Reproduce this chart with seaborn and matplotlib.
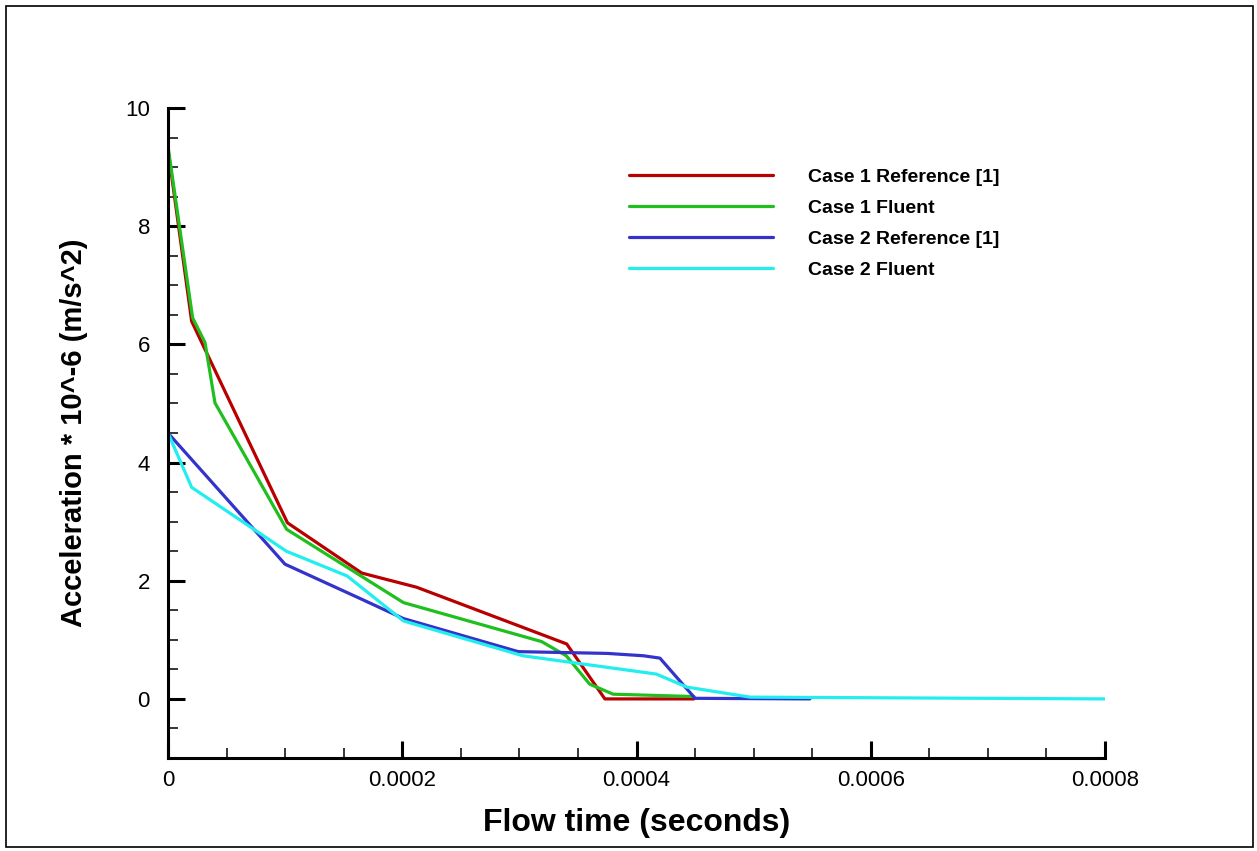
import matplotlib
matplotlib.use("Agg")
import matplotlib.pyplot as plt
import seaborn as sns
import pandas as pd
from matplotlib.patches import Rectangle
from matplotlib.ticker import MultipleLocator

# ---- data ----
c1_ref_t = [0.0, 0.0000202, 0.000102, 0.0001654, 0.0002123, 0.0003404, 0.000373, 0.000449]
c1_ref_a = [9.3, 6.39, 2.98, 2.13, 1.89, 0.93, 0.0, 0.0]

c1_flu_t = [0.0, 0.000021, 0.0000316, 0.0000401, 0.0001013, 0.000201, 0.000319, 0.00034,
            0.00036, 0.00038, 0.000449]
c1_flu_a = [9.35, 6.45, 6.03, 5.01, 2.87, 1.63, 0.97, 0.73, 0.25, 0.08, 0.04]

c2_ref_t = [0.0, 0.0000999, 0.000165, 0.000201, 0.000299, 0.000375, 0.000406, 0.00042,
            0.00045, 0.000548]
c2_ref_a = [4.5, 2.28, 1.69, 1.36, 0.80, 0.77, 0.73, 0.69, 0.01, 0.0]

c2_flu_t = [0.0, 0.0000202, 0.000101, 0.000153, 0.000201, 0.000303, 0.000417, 0.000443,
            0.000497, 0.0008]
c2_flu_a = [4.5, 3.58, 2.50, 2.08, 1.32, 0.73, 0.42, 0.2, 0.03, 0.0]

series_names = ["Case 1 Reference [1]", "Case 1 Fluent", "Case 2 Reference [1]", "Case 2 Fluent"]
series_colors = ["#b80000", "#1fbf1f", "#3333cc", "#22eeee"]

x_tick_labels = ["0", "0.0002", "0.0004", "0.0006", "0.0008"]

frames = []
for name, t, a in zip(series_names,
                      [c1_ref_t, c1_flu_t, c2_ref_t, c2_flu_t],
                      [c1_ref_a, c1_flu_a, c2_ref_a, c2_flu_a]):
    frames.append(pd.DataFrame({"t": t, "a": a, "series": name}))
df = pd.concat(frames, ignore_index=True)

sns.set_style("white")
plt.rcParams['font.family'] = ['Liberation Sans', 'DejaVu Sans']
plt.rcParams['text.color'] = 'black'
plt.rcParams['axes.labelcolor'] = 'black'
plt.rcParams['xtick.color'] = 'black'
plt.rcParams['ytick.color'] = 'black'

fig = plt.figure(figsize=(12.57, 8.51), dpi=100)
ax = fig.add_axes([168/1257, 1 - 758/851, (1105-168)/1257, (758-108)/851])

sns.lineplot(data=df, x="t", y="a", hue="series", hue_order=series_names,
             palette=dict(zip(series_names, series_colors)), estimator=None,
             sort=False, linewidth=2.3, ax=ax)

ax.set_xlim(0, 0.0008)
ax.set_ylim(-1, 10)
ax.xaxis.set_minor_locator(MultipleLocator(0.00005))
ax.yaxis.set_major_locator(MultipleLocator(2))
ax.yaxis.set_minor_locator(MultipleLocator(0.5))
ax.set_xticks([0, 0.0002, 0.0004, 0.0006, 0.0008])
ax.set_xticklabels(x_tick_labels)

for s in ["top", "right"]:
    ax.spines[s].set_visible(False)
for s in ["left", "bottom"]:
    ax.spines[s].set_color("black")
    ax.spines[s].set_linewidth(2.2)

ax.tick_params(which="major", direction="in", length=12, width=2.2, color="black",
               labelsize=16, labelcolor="black")
ax.tick_params(which="minor", direction="in", length=7, width=1.1, color="black")
ax.tick_params(axis="y", which="major", pad=13)
ax.tick_params(axis="x", which="major", pad=9)
ax.tick_params(left=True, bottom=True, which="both")

ax.set_xlabel("Flow time (seconds)", fontsize=23, fontweight="bold", labelpad=12,
              color="black")
ax.set_ylabel("Acceleration * 10^-6 (m/s^2)", fontsize=21, fontweight="bold", labelpad=27,
              color="black")

leg = ax.legend(loc="upper left", bbox_to_anchor=(0.473, 0.934), frameon=False,
                handlelength=7.4, handletextpad=1.8, labelspacing=0.68,
                prop={"weight": "bold", "size": 14})
for line in leg.get_lines():
    line.set_linewidth(2.3)
for txt in leg.get_texts():
    txt.set_color("black")

fig.patches.append(Rectangle((6/1257, 4/851), (1253-6)/1257, (845-4)/851,
                             transform=fig.transFigure, fill=False,
                             edgecolor="black", linewidth=1.2))

fig.savefig("out.png", dpi=100)
